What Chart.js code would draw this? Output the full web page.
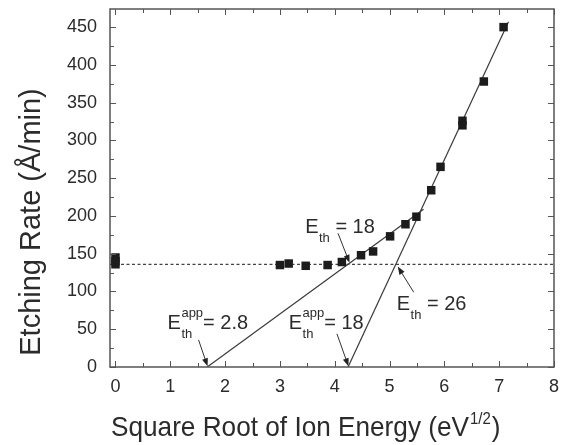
<!DOCTYPE html>
<html><head><meta charset="utf-8">
<script src="https://cdn.jsdelivr.net/npm/chart.js@4.4.1/dist/chart.umd.min.js"></script>
<style>html,body{margin:0;padding:0;background:#fff}#wrap{width:563px;height:445px;position:relative}</style>
</head><body><div id="wrap"><canvas id="c" width="563" height="445"></canvas></div>
<script>
// ---- data ----
const ionEnergySqrt = [0, 0, 0, 3.0, 3.16, 3.47, 3.87, 4.13, 4.48, 4.70, 5.01, 5.29, 5.49, 5.76, 5.93, 6.33, 6.33, 6.72, 7.08];
const etchRate      = [145, 140, 136, 135, 137, 134, 135, 139, 148, 153, 173, 189, 199, 234, 265, 326, 320, 378, 450];
const plateauX = [-0.1, 8];
const plateauY = [136, 136];
const fitLowX  = [1.673, 5.62];
const fitLowY  = [0, 209];
const fitHighX = [4.243, 7.17];
const fitHighY = [0, 457];
const xTicks = [0, 1, 2, 3, 4, 5, 6, 7, 8];
const yTicks = [0, 50, 100, 150, 200, 250, 300, 350, 400, 450];
const xTitle = 'Square Root of Ion Energy (eV';
const xTitleSup = '1/2';
const yTitle = 'Etching Rate (Å/min)';
// annotation labels: text + where they sit (data coords)
const labels = [
  {base: 'E', sub: 'th', sup: '', rest: ' = 18', x: 3.46, y: 178},
  {base: 'E', sub: 'th', sup: '', rest: ' = 26', x: 5.13, y: 76},
  {base: 'E', sub: 'th', sup: 'app', rest: '= 2.8', x: 0.95, y: 50},
  {base: 'E', sub: 'th', sup: 'app', rest: '= 18', x: 3.16, y: 50}
];
const arrows = [
  {x0: 4.06, y0: 177, x1: 4.27, y1: 138},
  {x0: 5.44, y0: 99, x1: 5.15, y1: 133},
  {x0: 1.515, y0: 36, x1: 1.68, y1: 1},
  {x0: 4.04, y0: 44, x1: 4.25, y1: 1}
];

const FONT = '"Liberation Sans", Arial, Helvetica, sans-serif';
const TXT = '#2b2b2b';
const pts = (xs, ys) => xs.map((x, i) => ({x, y: ys[i]}));

const decor = {
  id: 'decor',
  afterDatasetsDraw(chart) {
    const ctx = chart.ctx, a = chart.chartArea;
    const xs = chart.scales.x, ys = chart.scales.y;
    ctx.save();
    // ticks (inward, all four sides)
    ctx.strokeStyle = '#555'; ctx.lineWidth = 1;
    ctx.beginPath();
    for (let v = 0; v <= 8.001; v += 0.5) {
      const px = Math.round(xs.getPixelForValue(v)) + 0.5;
      const L = Math.abs(v - Math.round(v)) < 1e-6 ? 6 : 4;
      ctx.moveTo(px, a.bottom); ctx.lineTo(px, a.bottom - L);
      ctx.moveTo(px, a.top); ctx.lineTo(px, a.top + L);
    }
    for (let v = 0; v <= 474; v += 25) {
      const py = Math.round(ys.getPixelForValue(v)) + 0.5;
      const L = v % 50 === 0 ? 6 : 4;
      ctx.moveTo(a.left, py); ctx.lineTo(a.left + L, py);
      ctx.moveTo(a.right, py); ctx.lineTo(a.right - L, py);
    }
    ctx.stroke();
    // frame
    ctx.lineWidth = 1.5; ctx.strokeStyle = '#555';
    ctx.strokeRect(a.left, a.top, a.right - a.left, a.bottom - a.top);

    // arrows
    ctx.strokeStyle = '#333'; ctx.fillStyle = '#222'; ctx.lineWidth = 1;
    arrows.forEach(r => {
      const x0 = xs.getPixelForValue(r.x0), y0 = ys.getPixelForValue(r.y0);
      const x1 = xs.getPixelForValue(r.x1), y1 = ys.getPixelForValue(r.y1);
      const ang = Math.atan2(y1 - y0, x1 - x0);
      const hl = 8, hw = 3;
      ctx.beginPath(); ctx.moveTo(x0, y0);
      ctx.lineTo(x1 - Math.cos(ang) * hl * 0.8, y1 - Math.sin(ang) * hl * 0.8); ctx.stroke();
      ctx.beginPath();
      ctx.moveTo(x1, y1);
      ctx.lineTo(x1 - Math.cos(ang) * hl - Math.sin(ang) * hw, y1 - Math.sin(ang) * hl + Math.cos(ang) * hw);
      ctx.lineTo(x1 - Math.cos(ang) * hl + Math.sin(ang) * hw, y1 - Math.sin(ang) * hl - Math.cos(ang) * hw);
      ctx.closePath(); ctx.fill();
    });

    // labels
    ctx.fillStyle = TXT; ctx.textBaseline = 'alphabetic'; ctx.textAlign = 'left';
    labels.forEach(l => {
      let px = xs.getPixelForValue(l.x), py = ys.getPixelForValue(l.y);
      ctx.font = '20px ' + FONT;
      ctx.fillText(l.base, px, py); px += ctx.measureText(l.base).width + 0.5;
      ctx.font = '13px ' + FONT;
      const ws = ctx.measureText(l.sub).width, wp = l.sup ? ctx.measureText(l.sup).width : 0;
      ctx.fillText(l.sub, px, py + 9);
      if (l.sup) ctx.fillText(l.sup, px, py - 12);
      px += Math.max(ws, wp);
      ctx.font = '20px ' + FONT;
      ctx.fillText(l.rest, px, py);
    });

    // x axis title (slightly condensed like the reference)
    ctx.save();
    ctx.translate(111, 436); ctx.scale(0.935, 1);
    ctx.font = '28px ' + FONT;
    let tx = 0;
    ctx.fillText(xTitle, tx, 0); tx += ctx.measureText(xTitle).width + 1;
    ctx.font = '16px ' + FONT;
    ctx.fillText(xTitleSup, tx, -12); tx += ctx.measureText(xTitleSup).width + 1;
    ctx.font = '28px ' + FONT;
    ctx.fillText(')', tx, 0);
    ctx.restore();

    // y axis title
    ctx.font = '29px ' + FONT;
    ctx.translate(39.5, 222); ctx.rotate(-Math.PI / 2);
    ctx.textAlign = 'center';
    ctx.fillText(yTitle, 0, 0);
    ctx.restore();
  }
};

new Chart(document.getElementById('c'), {
  type: 'scatter',
  data: {
    datasets: [
      {label: 'Measured', data: pts(ionEnergySqrt, etchRate), pointStyle: 'rect', pointRadius: 6,
       backgroundColor: '#1c1c1c', borderColor: '#1c1c1c', borderWidth: 0, showLine: false, order: 0},
      {label: 'Plateau', data: pts(plateauX, plateauY), showLine: true, pointRadius: 0,
       borderColor: '#444', borderWidth: 1.2, borderDash: [3, 2.5], order: 3},
      {label: 'Fit low', data: pts(fitLowX, fitLowY), showLine: true, pointRadius: 0,
       borderColor: '#3a3a3a', borderWidth: 1.2, order: 2},
      {label: 'Fit high', data: pts(fitHighX, fitHighY), showLine: true, pointRadius: 0,
       borderColor: '#3a3a3a', borderWidth: 1.2, order: 1}
    ]
  },
  options: {
    responsive: false, animation: false, devicePixelRatio: 1,
    layout: {padding: {top: 9, right: 9, left: 0, bottom: 0}},
    plugins: {legend: {display: false}, tooltip: {enabled: false}},
    scales: {
      x: {
        type: 'linear', min: -0.1, max: 8,
        afterBuildTicks: s => { s.ticks = xTicks.map(v => ({value: v})); },
        afterFit: s => { s.height = 78; s.paddingLeft = 0; s.paddingRight = 0; },
        grid: {display: false, drawTicks: false}, border: {display: false},
        ticks: {font: {family: FONT, size: 18}, color: TXT, padding: 9, maxRotation: 0, autoSkip: false}
      },
      y: {
        type: 'linear', min: 0, max: 474,
        afterBuildTicks: s => { s.ticks = yTicks.map(v => ({value: v})); },
        afterFit: s => { s.width = 110; s.paddingTop = 0; s.paddingBottom = 0; },
        grid: {display: false, drawTicks: false}, border: {display: false},
        ticks: {font: {family: FONT, size: 18}, color: TXT, padding: 13, autoSkip: false}
      }
    }
  },
  plugins: [decor]
});
</script></body></html>
